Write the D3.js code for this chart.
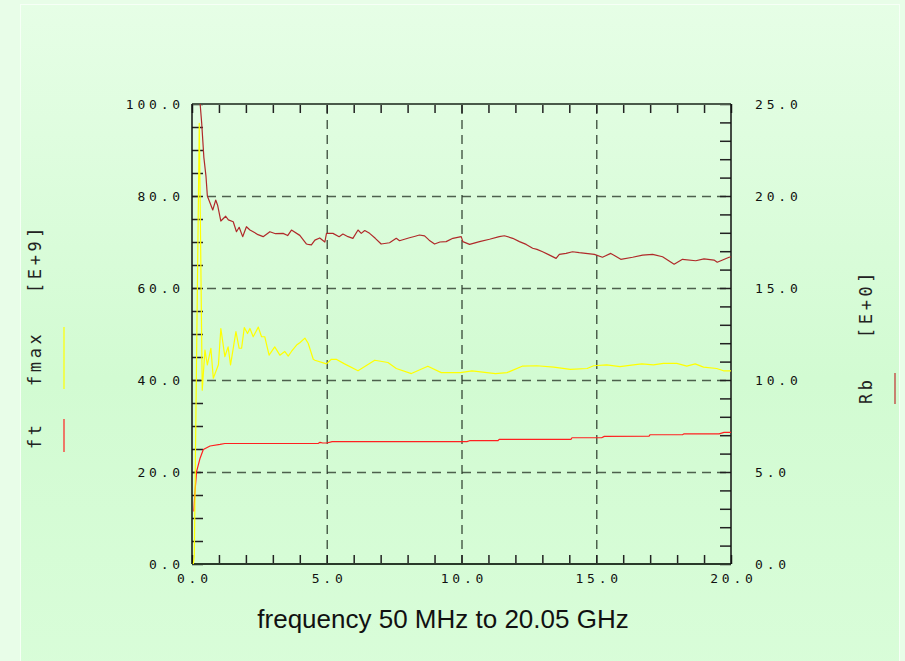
<!DOCTYPE html>
<html>
<head>
<meta charset="utf-8">
<script src="https://cdn.jsdelivr.net/npm/d3@7"></script>
<style>
  body { margin: 0; background: #e8fde8; }
  svg { display: block; }
</style>
</head>
<body>
<div id="chart"></div>
<script>
// frequency in GHz
var ftFreq = [0.07, 0.1, 0.17, 0.3, 0.42, 0.67, 1.04, 1.22, 4.68, 4.75, 4.85, 5.0, 5.2, 10.2, 10.3, 11.35, 11.4, 14.06, 14.1, 15.2, 15.3, 16.96, 17.0, 18.2, 18.26, 19.56, 19.74, 20.05];
var ftVal = [11.4, 15.0, 20.1, 23.0, 24.9, 25.65, 26.0, 26.2, 26.2, 26.45, 26.3, 26.3, 26.6, 26.6, 26.8, 26.8, 27.1, 27.1, 27.45, 27.45, 27.75, 27.8, 28.1, 28.1, 28.3, 28.3, 28.6, 28.6];

var fmaxFreq = [0.05, 0.085, 0.27, 0.38, 0.48, 0.57, 0.7, 0.79, 0.98, 1.07, 1.22, 1.34, 1.43, 1.63, 1.75, 1.84, 1.94, 2.06, 2.15, 2.27, 2.46, 2.58, 2.7, 2.86, 3.07, 3.26, 3.44, 3.57, 3.69, 3.88, 4.0, 4.19, 4.31, 4.5, 4.56, 4.99, 5.17, 5.35, 5.66, 6.16, 6.78, 7.27, 7.58, 8.14, 8.75, 9.25, 9.96, 10.39, 11.26, 11.69, 12.25, 12.8, 13.42, 14.04, 14.66, 14.9, 15.39, 15.88, 16.38, 16.69, 17.12, 17.49, 17.99, 18.36, 18.67, 18.98, 19.47, 19.72, 20.05];
var fmaxVal = [0, 1.6, 95.8, 37.8, 46.5, 43.3, 46.9, 40.4, 43.3, 51.2, 45.1, 47.2, 43.3, 50.5, 46.9, 46.9, 51.4, 50.1, 51.2, 49.4, 51.5, 49.4, 49.4, 45.4, 47.2, 45.4, 46.2, 45.2, 46.2, 47.6, 48.1, 49.1, 48.0, 44.5, 44.3, 43.5, 44.5, 44.5, 43.5, 42.0, 44.3, 43.8, 42.5, 41.4, 43.0, 41.6, 41.6, 42.0, 41.4, 41.6, 43.0, 43.1, 42.8, 42.3, 42.5, 43.1, 43.3, 42.9, 43.3, 43.5, 43.3, 43.6, 43.6, 43.0, 43.5, 42.8, 42.5, 42.0, 42.0];

var rbFreq = [0.15, 0.25, 0.3, 0.36, 0.44, 0.52, 0.57, 0.77, 0.88, 0.95, 1.07, 1.25, 1.35, 1.53, 1.65, 1.75, 1.88, 2.02, 2.15, 2.27, 2.45, 2.64, 2.89, 3.1, 3.38, 3.55, 3.69, 4.0, 4.25, 4.31, 4.43, 4.56, 4.74, 4.93, 4.99, 5.23, 5.46, 5.6, 5.79, 5.97, 6.16, 6.28, 6.41, 6.59, 6.8, 7.02, 7.33, 7.58, 7.7, 8.07, 8.25, 8.44, 8.63, 8.8, 9.0, 9.2, 9.43, 9.68, 9.99, 10.05, 10.3, 10.67, 11.04, 11.4, 11.59, 11.9, 12.15, 12.4, 12.64, 12.8, 13.01, 13.25, 13.51, 13.63, 13.88, 14.12, 14.37, 14.93, 15.23, 15.54, 15.91, 16.35, 16.72, 17.09, 17.46, 17.89, 18.2, 18.69, 19.0, 19.37, 19.49, 19.93, 20.05];
var rbVal = [34, 27, 25.04, 23.95, 22.1, 21.05, 20.0, 19.24, 19.78, 19.5, 18.64, 18.9, 18.7, 18.6, 18.06, 18.3, 17.79, 18.33, 18.15, 18.06, 17.9, 17.79, 18.06, 17.95, 17.97, 17.85, 18.15, 17.86, 17.39, 17.37, 17.34, 17.6, 17.72, 17.5, 17.97, 17.97, 17.79, 17.93, 17.79, 17.7, 18.15, 17.97, 18.12, 17.97, 17.7, 17.39, 17.46, 17.7, 17.57, 17.73, 17.8, 17.88, 17.83, 17.6, 17.39, 17.5, 17.52, 17.7, 17.79, 17.52, 17.37, 17.52, 17.65, 17.79, 17.84, 17.7, 17.52, 17.37, 17.16, 17.1, 16.97, 16.8, 16.61, 16.83, 16.88, 16.97, 16.92, 16.83, 16.67, 16.88, 16.56, 16.67, 16.79, 16.83, 16.7, 16.29, 16.56, 16.48, 16.58, 16.52, 16.4, 16.67, 16.7];

var xTickLabels = [0, 5, 10, 15, 20];
var leftTickLabels = [0, 20, 40, 60, 80, 100];
var rightTickLabels = [0, 5, 10, 15, 20, 25];

var W = 905, H = 661;
var svg = d3.select('#chart').append('svg').attr('width', W).attr('height', H);

var defs = svg.append('defs');
var grad = defs.append('linearGradient').attr('id', 'bg').attr('x1', 0).attr('y1', 0).attr('x2', 0).attr('y2', 1);
grad.append('stop').attr('offset', '0%').attr('stop-color', '#e6fee6');
grad.append('stop').attr('offset', '55%').attr('stop-color', '#d2fbd2');
grad.append('stop').attr('offset', '100%').attr('stop-color', '#d9fdd9');

svg.append('rect').attr('width', W).attr('height', H).attr('fill', '#e8fde8');
svg.append('rect')
  .attr('x', 20.5).attr('y', 4.5).attr('width', 879).attr('height', 680)
  .attr('fill', 'url(#bg)').attr('stroke', '#f6fff6').attr('stroke-width', 1);

var x = d3.scaleLinear().domain([0, 20]).range([192, 731]);
var yL = d3.scaleLinear().domain([0, 100]).range([564, 104]);
var yR = d3.scaleLinear().domain([0, 25]).range([564, 104]);

defs.append('clipPath').attr('id', 'plot').append('rect')
  .attr('x', 192).attr('y', 104).attr('width', 539).attr('height', 460);

// dashed grid
var grid = svg.append('g');
grid.append('g').attr('transform', 'translate(192,0)')
  .call(d3.axisLeft(yL).tickValues([20, 40, 60, 80]).tickSize(-539).tickFormat(''));
grid.append('g').attr('transform', 'translate(0,564)')
  .call(d3.axisBottom(x).tickValues([5, 10, 15]).tickSize(-460).tickFormat(''));
grid.selectAll('.domain').remove();
grid.selectAll('line').attr('stroke', '#2a3a2a').attr('stroke-opacity', 0.8)
  .attr('stroke-width', 1.5).attr('stroke-dasharray', '9,6');

// minor ticks (inward)
var ticks = svg.append('g');
ticks.append('g').attr('transform', 'translate(192,0)')
  .call(d3.axisLeft(yL).tickValues(d3.range(0, 101, 5)).tickSize(-11).tickFormat(''));
ticks.append('g').attr('transform', 'translate(731,0)')
  .call(d3.axisRight(yR).tickValues(d3.range(0, 26, 1)).tickSize(-11).tickFormat(''));
ticks.append('g').attr('transform', 'translate(0,104)')
  .call(d3.axisTop(x).tickValues(d3.range(0, 21, 1)).tickSize(-9).tickFormat(''));
ticks.append('g').attr('transform', 'translate(0,564)')
  .call(d3.axisBottom(x).tickValues(d3.range(0, 21, 1)).tickSize(-9).tickFormat(''));
ticks.selectAll('.domain').remove();
ticks.selectAll('line').attr('stroke', '#222').attr('stroke-width', 1.5);

// frame
svg.append('line').attr('x1', 192).attr('x2', 731).attr('y1', 104).attr('y2', 104).attr('stroke', '#4a5a4a').attr('stroke-width', 2);
svg.append('line').attr('x1', 192).attr('x2', 731).attr('y1', 564).attr('y2', 564).attr('stroke', '#2a3a2a').attr('stroke-width', 2);
svg.append('line').attr('x1', 192).attr('x2', 192).attr('y1', 104).attr('y2', 564).attr('stroke', '#111').attr('stroke-width', 1.5);
svg.append('line').attr('x1', 731).attr('x2', 731).attr('y1', 104).attr('y2', 564).attr('stroke', '#111').attr('stroke-width', 1.5);

// curves
var plot = svg.append('g').attr('clip-path', 'url(#plot)');
function series(freq, vals, yScale, color) {
  var pts = freq.map(function (f, i) { return [f, vals[i]]; });
  var line = d3.line()
    .x(function (d) { return x(d[0]); })
    .y(function (d) { return yScale(d[1]); });
  plot.append('path').datum(pts)
    .attr('d', line)
    .attr('fill', 'none')
    .attr('stroke', color)
    .attr('stroke-width', 1.2)
    .attr('stroke-linejoin', 'round');
}
series(ftFreq, ftVal, yL, '#ff2020');
series(fmaxFreq, fmaxVal, yL, '#ffff00');
series(rbFreq, rbVal, yR, '#b02a2a');

// tick labels
var fmt = d3.format('.1f');
var monoFont = 'DejaVu Sans Mono, monospace';
function styleLabels(g) {
  g.selectAll('.domain').remove();
  g.selectAll('text')
    .style('font-family', monoFont)
    .style('font-size', '13px')
    .style('letter-spacing', '3.8px')
    .attr('fill', '#111');
}
var lblL = svg.append('g').attr('transform', 'translate(192,0)')
  .call(d3.axisLeft(yL).tickValues(leftTickLabels).tickSize(0).tickPadding(8).tickFormat(fmt));
styleLabels(lblL);
lblL.selectAll('text').attr('dy', '0.36em');

var lblR = svg.append('g').attr('transform', 'translate(731,0)')
  .call(d3.axisRight(yR).tickValues(rightTickLabels).tickSize(0).tickPadding(24).tickFormat(fmt));
styleLabels(lblR);
lblR.selectAll('text').attr('dy', '0.36em');

var lblB = svg.append('g').attr('transform', 'translate(0,564)')
  .call(d3.axisBottom(x).tickValues(xTickLabels).tickSize(0).tickPadding(10).tickFormat(fmt));
styleLabels(lblB);
lblB.selectAll('text').attr('dx', '1.9px');

// axis titles and legend samples
function vlabel(txt, px, py) {
  svg.append('text')
    .attr('transform', 'translate(' + px + ',' + py + ') rotate(-90)')
    .style('font-family', monoFont)
    .style('font-size', '17px')
    .style('letter-spacing', '3.6px')
    .attr('fill', '#222')
    .text(txt);
}
vlabel('ft', 41, 449);
vlabel('fmax', 41, 386);
vlabel('[E+9]', 41, 293);
vlabel('Rb', 872, 404);
vlabel('[E+0]', 872, 338);

svg.append('line').attr('x1', 64).attr('x2', 64).attr('y1', 419).attr('y2', 452).attr('stroke', '#ff2020').attr('stroke-width', 1.2);
svg.append('line').attr('x1', 64).attr('x2', 64).attr('y1', 327).attr('y2', 389).attr('stroke', '#ffff00').attr('stroke-width', 1.2);
svg.append('line').attr('x1', 895).attr('x2', 895).attr('y1', 373).attr('y2', 404).attr('stroke', '#c03030').attr('stroke-width', 1.2);

svg.append('text')
  .attr('x', 443).attr('y', 628)
  .attr('text-anchor', 'middle')
  .style('font-family', 'Liberation Sans, Arial, sans-serif')
  .style('font-size', '26px')
  .attr('fill', '#111')
  .text('frequency 50 MHz to 20.05 GHz');
</script>
</body>
</html>
